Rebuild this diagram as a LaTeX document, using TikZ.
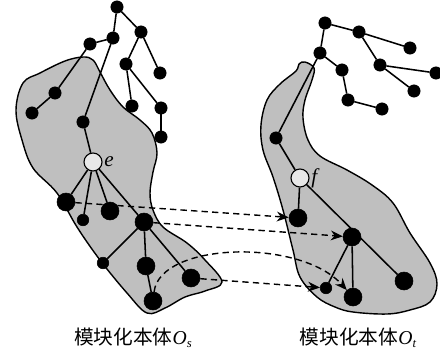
\documentclass[tikz,border=0pt]{standalone}
\usepackage{fontspec}
\setmainfont{Liberation Serif}
\newfontfamily\cjk{Noto Sans CJK SC}
\usetikzlibrary{arrows.meta}

\newcommand{\ontname}[1]{{\cjk 模块化本体}\textit{O}\raisebox{-0.35ex}{\fontsize{9}{10}\selectfont\itshape #1}}

\tikzset{
  dot/.style={circle, fill=black, draw=black, inner sep=0pt, minimum size=0.31cm},
  bigdot/.style={circle, fill=black, draw=black, inner sep=0pt, minimum size=0.45cm},
  smalldot/.style={circle, fill=black, draw=black, inner sep=0pt, minimum size=0.29cm},
  root/.style={circle, fill=gray!18, draw=black, line width=0.8pt, inner sep=0pt, minimum size=0.45cm},
  edge/.style={line width=1.1pt},
  blob/.style={fill=gray!50, draw=black, line width=1pt},
  map/.style={line width=1pt, dash pattern=on 4.5pt off 3pt, -{Stealth[length=8.5pt,width=7pt]}},
  caption/.style={font=\fontsize{14}{16}\selectfont, inner sep=0pt},
}

\begin{document}
\begin{tikzpicture}[x=0.025cm, y=-0.025cm]
\useasboundingbox (0,0) rectangle (440,351);

% ---------- source ontology region ----------
\draw[blob] plot[smooth cycle, tension=0.6] coordinates {
  (83,57) (93,60) (100,72) (110,90) (123,107) (140,120) (152,133) (157,153)
  (153,172) (150,193) (153,210) (163,227) (187,243) (205,260) (222,282)
  (205,291) (185,297) (165,308) (147,313) (127,293) (100,260) (77,227)
  (57,193) (33,168) (22,140) (16,110) (23,83) (40,73) (65,61)};

% ---------- target ontology region ----------
\draw[blob] plot[smooth cycle, tension=0.6] coordinates {
  (305,62) (314,68) (312,80) (305,100) (303,118) (308,140) (320,156)
  (347,170) (372,185) (393,203) (410,233) (430,263) (437,284) (430,302)
  (410,310) (387,314) (353,312) (335,307) (317,297) (300,277) (293,250)
  (283,210) (273,177) (263,150) (261,125) (267,100) (280,84) (296,71) (299,64)};

% ---------- source tree ----------
\node[dot] (s1) at (117,7) {};
\node[dot] (s2) at (141,32) {};
\node[dot] (s3) at (113,38) {};
\node[dot] (s4) at (90,44) {};
\node[dot] (s5) at (126,64) {};
\node[dot] (s6) at (160,73) {};
\node[dot] (s7) at (55,93) {};
\node[dot] (s8) at (32,113) {};
\node[dot] (s9) at (132,106) {};
\node[dot] (s10) at (161,108) {};
\node[dot] (s11) at (161,137) {};
\node[dot] (s12) at (83,122) {};
\node[root] (e) at (93,162) {};
\node[font=\fontsize{15}{16}\selectfont\itshape, anchor=west, inner sep=1pt] (elab) at (e.east) {e};
\node[bigdot] (a1) at (66,202) {};
\node[smalldot] (a2) at (83,220) {};
\node[bigdot] (a3) at (110,211) {};
\node[bigdot] (a4) at (144,222) {};
\node[smalldot] (a5) at (103,263) {};
\node[bigdot] (a6) at (146,266) {};
\node[bigdot] (a7) at (153,301) {};
\node[bigdot] (a8) at (191,278) {};

\draw[edge] (s1) -- (s2);
\draw[edge] (s1) -- (s3);
\draw[edge] (s3) -- (s4);
\draw[edge] (s4) -- (s7);
\draw[edge] (s7) -- (s8);
\draw[edge] (s3) -- (s12);
\draw[edge] (s12) -- (e);
\draw[edge] (s2) -- (s5);
\draw[edge] (s2) -- (s6);
\draw[edge] (s5) -- (s9);
\draw[edge] (s5) -- (s10);
\draw[edge] (s10) -- (s11);
\draw[edge] (e) -- (a1);
\draw[edge] (e) -- (a2);
\draw[edge] (e) -- (a3);
\draw[edge] (e) -- (a4);
\draw[edge] (a4) -- (a5);
\draw[edge] (a4) -- (a6);
\draw[edge] (a6) -- (a7);
\draw[edge] (a4) -- (a8);

% ---------- target tree ----------
\node[dot] (t1) at (325,23) {};
\node[dot] (t2) at (359,32) {};
\node[dot] (t3) at (410,48) {};
\node[dot] (t4) at (320,53) {};
\node[dot] (t5) at (380,65) {};
\node[dot] (t6) at (342,70) {};
\node[dot] (t7) at (436,73) {};
\node[dot] (t8) at (414,91) {};
\node[dot] (t9) at (348,100) {};
\node[dot] (t10) at (382,109) {};
\node[dot] (t11) at (276,138) {};
\node[root] (f) at (300,178) {};
\node[font=\fontsize{15}{16}\selectfont\itshape, anchor=west, inner sep=1pt] (flab) at (f.east) {f};
\node[bigdot] (b1) at (298,218) {};
\node[bigdot] (b2) at (352,237) {};
\node[bigdot] (b3) at (404,281) {};
\node[smalldot] (b4) at (326,288) {};
\node[bigdot] (b5) at (353,297) {};

\draw[edge] (t1) -- (t2);
\draw[edge] (t2) -- (t3);
\draw[edge] (t2) -- (t5);
\draw[edge] (t5) -- (t7);
\draw[edge] (t5) -- (t8);
\draw[edge] (t1) -- (t4);
\draw[edge] (t4) -- (t6);
\draw[edge] (t6) -- (t9);
\draw[edge] (t9) -- (t10);
\draw[edge] (t4) -- (t11);
\draw[edge] (t11) -- (f);
\draw[edge] (f) -- (b1);
\draw[edge] (f) -- (b3);
\draw[edge] (b2) -- (b4);
\draw[edge] (b2) -- (b5);

% ---------- correspondences ----------
\draw[map] (a1) -- (b1);
\draw[map] (a4) -- (b2);
\draw[map] (a7) .. controls (160,242) and (300,238) .. (b5);
\draw[map] (a8) -- (b4);

% ---------- captions ----------
\node[caption] (capS) at (133,338) {\ontname{s}};
\node[caption] (capT) at (358,338) {\ontname{t}};
\end{tikzpicture}
\end{document}
